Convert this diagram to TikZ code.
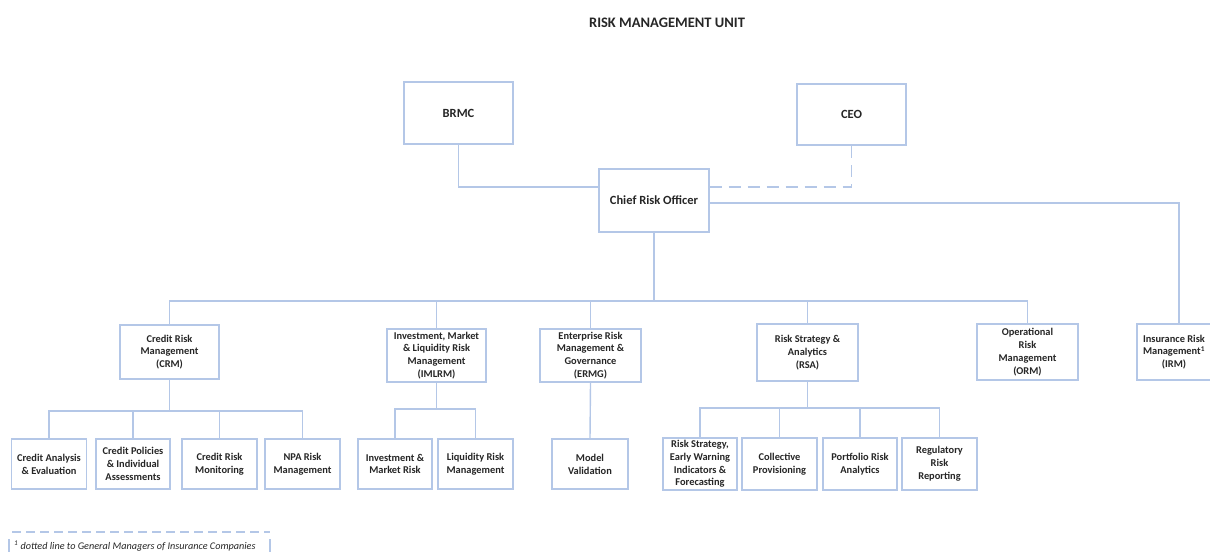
\documentclass[tikz,border=0pt]{standalone}
\usepackage{fontspec}
\setmainfont{Carlito}
\definecolor{boxblue}{HTML}{B4C7E7}
\definecolor{txt}{HTML}{262626}
\begin{document}
\begin{tikzpicture}[x=1pt,y=-1pt,
  box/.style={draw=boxblue,line width=1.4pt,fill=white,align=center,inner sep=0.5pt,
     font=\fontsize{10.4}{12.8}\selectfont\bfseries,text=txt},
  topbox/.style={box,font=\fontsize{12.5}{15}\selectfont\bfseries},
  link/.style={draw=boxblue,line width=1.4pt},
  dlink/.style={link,dash pattern=on 12pt off 7pt}]
\useasboundingbox (0,0) rectangle (1210,552);
\begin{scope}
\clip (0,0) rectangle (1210,552);
\node[font=\fontsize{14.5}{17}\selectfont\bfseries,text=txt] (title) at (667,23) {RISK MANAGEMENT UNIT};
% level 0/1
\node[topbox,minimum width=109pt,minimum height=62pt] (brmc) at (458.5,113) {BRMC};
\node[topbox,minimum width=109pt,minimum height=61pt] (ceo) at (851.5,114.5) {CEO};
\node[topbox,minimum width=110pt,minimum height=63pt] (cro) at (654,200.5) {Chief Risk Officer};
% level 2
\node[box,minimum width=99pt,minimum height=54pt] (crm) at (169.5,352) {Credit Risk\\Management\\(CRM)};
\node[box,minimum width=99pt,minimum height=53pt] (imlrm) at (436.5,355.5) {Investment, Market\\\& Liquidity Risk\\Management\\(IMLRM)};
\node[box,minimum width=101pt,minimum height=53pt] (ermg) at (590.5,355.5) {Enterprise Risk\\Management \&\\Governance\\(ERMG)};
\node[box,minimum width=101pt,minimum height=57pt] (rsa) at (807.5,352.5) {Risk Strategy \&\\Analytics\\(RSA)};
\node[box,minimum width=101pt,minimum height=56pt] (orm) at (1027.5,352) {Operational\\Risk\\Management\\(ORM)};
\node[box,minimum width=92pt,minimum height=56pt] (irm) at (1183,352) {};
\node[align=center,inner sep=0pt,font=\fontsize{10.4}{12.8}\selectfont\bfseries,text=txt] (irmt) at (1174,352) {Insurance Risk\\Management\textsuperscript{1}\\(IRM)};
% level 3
\tikzset{leaf/.style={box,minimum width=75pt,minimum height=50pt}}
\node[leaf] (ca) at (49,464) {Credit Analysis\\\& Evaluation};
\node[leaf,minimum width=74pt] (cp) at (133,464) {Credit Policies\\\& Individual\\Assessments};
\node[leaf] (cmon) at (219.5,464) {Credit Risk\\Monitoring};
\node[leaf] (npa) at (302.5,464) {NPA Risk\\Management};
\node[leaf,minimum width=74pt] (imr) at (395,464) {Investment \&\\Market Risk};
\node[leaf] (lrm) at (475.5,464) {Liquidity Risk\\Management};
\node[leaf,minimum width=76pt] (mv) at (590,464) {Model\\Validation};
\node[leaf,minimum width=74pt,minimum height=52pt] (rsew) at (700,464) {Risk Strategy,\\Early Warning\\Indicators \&\\Forecasting};
\node[leaf,minimum height=52pt] (cpr) at (779.5,464) {Collective\\Provisioning};
\node[leaf,minimum width=74pt,minimum height=52pt] (pra) at (860,464) {Portfolio Risk\\Analytics};
\node[leaf,minimum height=52pt] (rrr) at (939.5,464) {Regulatory\\Risk\\Reporting};
% bus coordinates
\coordinate (b1) at (0,301);
\coordinate (b2) at (0,411);
\coordinate (b3) at (0,409);
\coordinate (b4) at (0,408);
% connectors
\draw[link] (brmc.south) |- ([yshift=13.5pt]cro.west);
\draw[dlink] ([yshift=13.5pt]cro.east) -| (ceo.south);
\draw[link] ([yshift=-2.5pt]cro.east) -| ([xshift=-4pt]irm.north);
\foreach \c in {crm,imlrm,ermg,rsa,orm}
  \draw[link] (cro.south) |- (b1 -| \c.north) -- (\c.north);
\foreach \c in {ca,cp,cmon,npa}
  \draw[link] (crm.south) |- (b2 -| \c.north) -- (\c.north);
\foreach \c in {imr,lrm}
  \draw[link] (imlrm.south) |- (b3 -| \c.north) -- (\c.north);
\draw[link] (ermg.south) -- (mv.north);
\foreach \c in {rsew,cpr,pra,rrr}
  \draw[link] (rsa.south) |- (b4 -| \c.north) -- (\c.north);
% footnote
\coordinate (fl) at (12,532);
\coordinate (fr) at (270,532);
\draw[link,line width=1.2pt,dash pattern=on 9pt off 5pt] (fl) -- (fr);
\draw[link,line width=1.2pt] (9,539) -- (9,552);
\draw[link,line width=1.2pt] (270,539) -- (270,552);
\node[anchor=west,inner sep=0pt,font=\fontsize{10.2}{12}\selectfont\itshape,text=txt] (fn) at (14,546) {\textsuperscript{1} dotted line to General Managers of Insurance Companies};
\end{scope}
\end{tikzpicture}
\end{document}
